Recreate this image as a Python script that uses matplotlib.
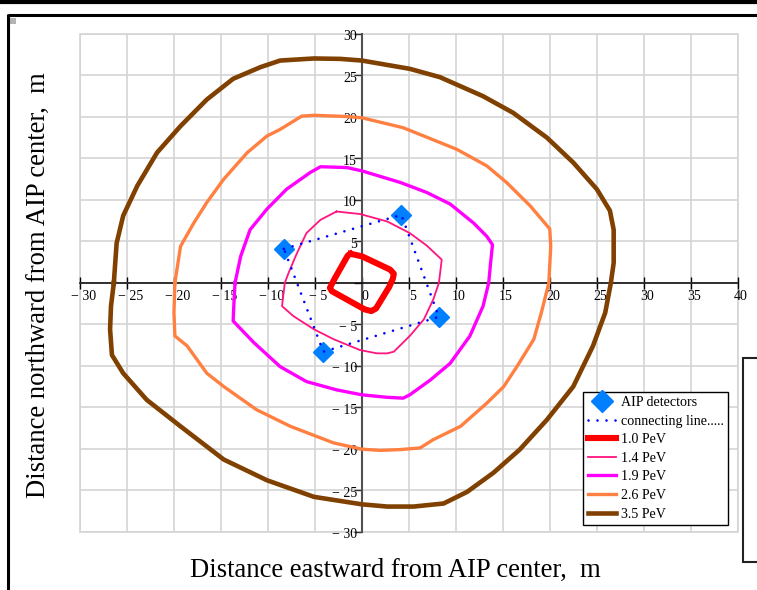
import matplotlib
matplotlib.use("Agg")
import matplotlib.pyplot as plt
from matplotlib.lines import Line2D
from matplotlib.patches import Rectangle

plt.rcParams['font.family'] = ['Liberation Serif', 'DejaVu Serif']

# ---------------- data ----------------
xticks = list(range(-30, 45, 5))
yticks = list(range(-30, 35, 5))

det_x = [-8.3, 4.2, 8.2, -4.1]
det_y = [4.1, 8.2, -4.1, -8.3]

e10_x = [-1.2, 0.0, 3.0, 3.4, 3.3, 2.9, 1.5, 1.0, 0.3, -3.2, -3.4, -2.9, -1.5]
e10_y = [3.5, 3.2, 1.6, 1.1, 0.5, -0.5, -3.1, -3.4, -3.2, -1.0, -0.6, 0.5, 3.3]

e14_x = [-2.7, -0.2, 2.7, 5.1, 6.9, 8.5, 8.2, 7.6, 6.6, 5.1, 3.4, 2.7, 1.6, -0.2,
         -3.0, -5.1, -7.3, -8.5, -8.2, -7.8, -6.9, -5.9, -4.4]
e14_y = [8.6, 8.3, 7.4, 6.0, 4.5, 2.8, 0.0, -2.0, -4.4, -6.4, -8.3, -8.5, -8.5, -8.1,
         -6.8, -5.6, -4.0, -2.8, 0.0, 1.2, 3.6, 6.0, 7.6]

e19_x = [-13.5, -12.9, -11.9, -10.1, -8.0, -5.5, -4.4, -1.6, 0.0, 4.1, 6.9, 9.4, 11.9,
         13.3, 13.9, 13.7, 13.5, 12.9, 11.5, 9.4, 7.3, 5.1, 4.4, 2.7, 0.0, -2.7, -5.9,
         -8.7, -11.5, -13.7, -13.6]
e19_y = [0.0, 3.2, 6.4, 8.9, 11.3, 13.3, 14.0, 13.9, 13.5, 12.1, 10.9, 9.5, 7.2,
         5.6, 4.6, 2.4, 0.0, -2.8, -6.4, -9.7, -11.7, -13.5, -13.9, -13.8, -13.5, -12.9,
         -11.9, -10.1, -7.2, -4.6, -2.0]

e26_x = [-19.9, -19.3, -17.9, -16.5, -14.7, -12.2, -10.1, -8.7, -6.4, -5.1, -1.6, 0.0,
         4.4, 10.1, 13.3, 15.4, 17.9, 20.0, 20.1, 19.9, 19.1, 18.3, 16.5, 15.1, 13.3,
         10.5, 7.6, 6.2, 4.1, 1.95, 0.0, -3.0, -7.6, -11.2, -14.7, -16.5, -18.6, -19.9,
         -20.0]
e26_y = [0.0, 4.4, 7.2, 9.7, 12.5, 15.7, 17.7, 18.5, 20.1, 20.2, 20.05, 19.9,
         18.7, 16.1, 14.1, 12.1, 9.3, 6.5, 4.4, 0.0, -3.6, -6.8, -10.1, -12.5, -14.5,
         -17.3, -18.9, -19.9, -20.1, -20.2, -20.05, -19.3, -17.3, -15.3, -12.5, -10.9,
         -7.6, -6.4, -3.6]

e35_x = [-26.4, -26.1, -25.4, -23.9, -21.8, -19.3, -16.5, -13.7, -10.8, -8.7, -5.1,
         -2.3, 0.0, 5.1, 8.3, 12.9, 16.1, 19.7, 22.5, 25.0, 26.4, 26.8, 26.8, 26.5,
         25.9, 24.6, 22.5, 19.7, 16.8, 14.0, 11.2, 8.7, 5.5, 2.7, 0.0, -5.1, -10.1,
         -14.7, -19.3, -22.9, -25.4, -26.6, -26.8, -26.7]
e35_y = [0.0, 4.8, 8.1, 11.7, 15.7, 18.9, 22.1, 24.6, 26.0, 26.8, 27.05,
         27.0, 26.8, 25.8, 24.8, 22.5, 20.5, 17.5, 14.5, 11.3, 8.7, 6.4, 2.4, 0.0,
         -3.6, -7.6, -12.5, -16.5, -20.1, -22.9, -25.2, -26.6, -26.97, -26.97, -26.7,
         -25.8, -23.8, -21.3, -17.3, -14.1, -10.9, -8.7, -5.6, -2.8]

labels = ["AIP detectors", "connecting line.....", "1.0 PeV", "1.4 PeV",
          "1.9 PeV", "2.6 PeV", "3.5 PeV"]


def closed(v):
    return list(v) + [v[0]]


def fmt(v):
    return "\u2212 %d" % abs(v) if v < 0 else "%d" % v


# ---------------- figure ----------------
W, H = 757, 590
fig = plt.figure(figsize=(W / 100, H / 100), dpi=100)
L, R, T, B = 80, 737.7, 34, 531.7
ax = fig.add_axes([L / W, 1 - B / H, (R - L) / W, (B - T) / H])
ax.set_xlim(-30, 40)
ax.set_ylim(-30, 30)

for s in ('top', 'right'):
    ax.spines[s].set_visible(False)
ax.spines['left'].set_position(('data', 0))
ax.spines['bottom'].set_position(('data', 0))
ax.spines['left'].set_color('#505050')
ax.spines['left'].set_linewidth(1.5)
ax.spines['bottom'].set_color('black')
ax.spines['bottom'].set_linewidth(1.1)
ax.spines['left'].set_zorder(1.5)
ax.spines['bottom'].set_zorder(1.5)

ax.set_xticks(xticks)
ax.set_yticks(yticks)
ax.tick_params(axis='x', direction='inout', length=8, width=1, color='black',
               labelbottom=False)
ax.tick_params(axis='y', direction='out', length=5.5, width=1, color='#303030',
               labelleft=False)
ax.grid(True, color='#d4d4d4', lw=1.2, zorder=0)
ax.set_axisbelow(True)
ax.add_patch(Rectangle((0, 0), 1, 1, transform=ax.transAxes, fill=False,
                       edgecolor='#d4d4d4', lw=1.2, zorder=0.5, clip_on=False))

for v in xticks:
    ax.annotate(fmt(v), (v, 0), xytext=(2.4, -5.5), textcoords='offset points',
                ha='center', va='top', fontsize=10, annotation_clip=False)
for v in yticks:
    if v == 0:
        continue
    ax.annotate(fmt(v), (0, v), xytext=(-3.6, -2.0), textcoords='offset points',
                ha='right', va='center', fontsize=10, annotation_clip=False)

# curves
h_det, = ax.plot(det_x, det_y, linestyle='none', marker='D', markersize=10,
                 color='#0080FF', zorder=3)
h_con, = ax.plot(closed(det_x), closed(det_y), color='#0000FF', lw=1.9,
                 linestyle=(0, (0.01, 3.4)), dash_capstyle='round', zorder=4)
h10, = ax.plot(closed(e10_x), closed(e10_y), color='#FF0000', lw=4.4,
               solid_joinstyle='round', zorder=3)
h14, = ax.plot(closed(e14_x), closed(e14_y), color='#FF1480', lw=1.3, zorder=3)
h19, = ax.plot(closed(e19_x), closed(e19_y), color='#FF00FF', lw=2.4, zorder=3)
h26, = ax.plot(closed(e26_x), closed(e26_y), color='#FF8040', lw=2.4, zorder=3)
h35, = ax.plot(closed(e35_x), closed(e35_y), color='#804000', lw=3.3, zorder=3)

leg = ax.legend([h_det, h_con, h10, h14, h19, h26, h35], labels,
                loc='upper left', bbox_to_anchor=(583.3 / W, 1 - 391.7 / H),
                bbox_transform=fig.transFigure, fontsize=10.1, frameon=True,
                fancybox=False, framealpha=1, edgecolor='black',
                handlelength=2.0, handletextpad=0.38, borderpad=0.3,
                labelspacing=0.4, borderaxespad=0, numpoints=1,
                markerscale=1.15)
leg.get_frame().set_linewidth(1.0)
leg.set_zorder(10)

# axis titles
fig.text(395 / W, 1 - 570 / H, "Distance eastward from AIP center,  m",
         ha='center', va='center', fontsize=19.2)
fig.text(38 / W, 1 - 285 / H, "Distance northward from AIP center,  m",
         ha='center', va='center', fontsize=19.2, rotation=90)

# worksheet frame
def px_line(xs, ys, lw, color='black'):
    fig.add_artist(Line2D([x / W for x in xs], [1 - y / H for y in ys],
                          transform=fig.transFigure, lw=lw, color=color,
                          solid_capstyle='butt'))

px_line([0, W], [2, 2], 3.0)
px_line([8.3, W], [15.3, 15.3], 2.2)
px_line([8.3, 8.3], [14.2, H], 2.2)
fig.add_artist(Rectangle((10 / W, 1 - 24 / H), 6 / W, 6 / H,
                         transform=fig.transFigure, color='#b4b4b4', lw=0))
px_line([742.5, W], [357.5, 357.5], 1.5, '#222222')
px_line([742.5, W], [562, 562], 1.5, '#222222')
px_line([742.5, 742.5], [357, 562.5], 1.5, '#222222')

fig.savefig("out.png", dpi=100)
